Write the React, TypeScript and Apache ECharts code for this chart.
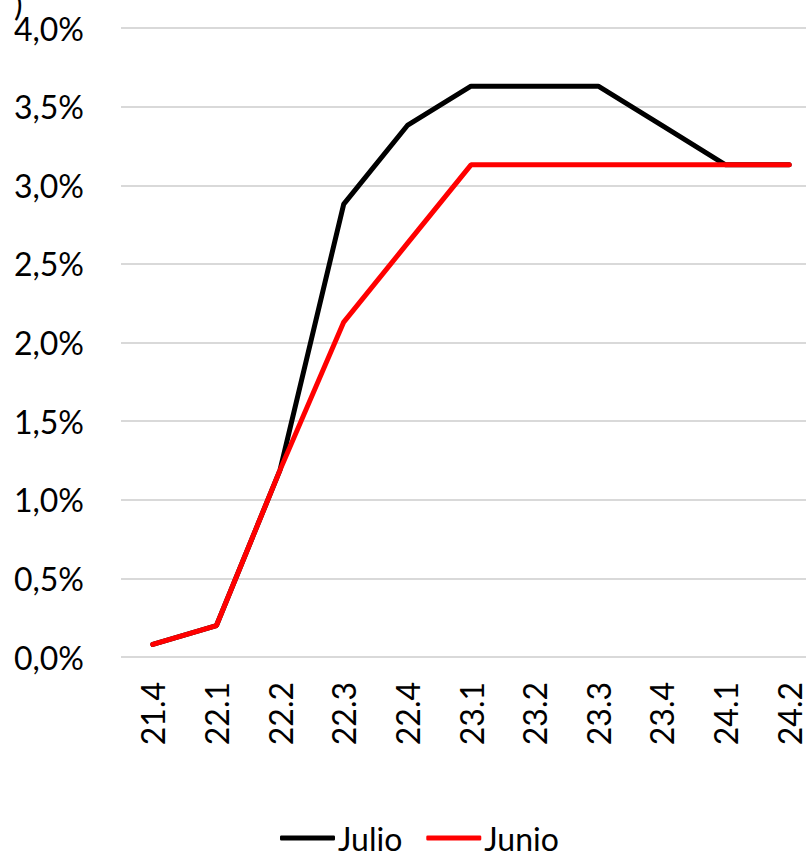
import React, { useEffect, useRef } from "react";
import * as echarts from "echarts";

const categories = ["21.4", "22.1", "22.2", "22.3", "22.4", "23.1", "23.2", "23.3", "23.4", "24.1", "24.2"];
const julio = [0.08, 0.2, 1.19, 2.88, 3.38, 3.63, 3.63, 3.63, 3.38, 3.13, 3.13];
const junio = [0.08, 0.2, 1.19, 2.13, 2.63, 3.13, 3.13, 3.13, 3.13, 3.13, 3.13];
const yTicks = [0, 0.5, 1, 1.5, 2, 2.5, 3, 3.5, 4];

const FONT = "Lato, 'Open Sans', sans-serif";

export default function App() {
  const ref = useRef<HTMLDivElement>(null);
  useEffect(() => {
    document.body.style.margin = "0";
    const chart = echarts.init(ref.current!, null, { renderer: "svg" });
    chart.setOption({
      animation: false,
      textStyle: { fontFamily: FONT },
      grid: { left: 121, right: 9, top: 28, bottom: 200, containLabel: false, outerBoundsMode: "none" },
      graphic: [
        {
          type: "text",
          left: 14,
          top: -13,
          style: { text: ")", fontSize: 32, fill: "#000", fontFamily: FONT },
        },
      ],
      legend: {
        top: 817,
        left: 275,
        itemWidth: 55,
        itemHeight: 5,
        itemGap: 24,
        icon: "roundRect",
        textStyle: { fontSize: 32, color: "#000", fontFamily: FONT, padding: [0, 0, 0, -2] },
        data: ["Julio", "Junio"],
      },
      xAxis: {
        type: "category",
        data: categories,
        boundaryGap: true,
        axisLine: { show: false },
        axisTick: { show: false },
        axisLabel: { rotate: 90, fontSize: 32, color: "#000", margin: 25, interval: 0, fontFamily: FONT },
      },
      yAxis: {
        type: "value",
        min: 0,
        max: 4,
        interval: 0.5,
        axisLine: { show: false },
        axisTick: { show: false },
        splitLine: { lineStyle: { color: "#d9d9d9", width: 2 } },
        axisLabel: {
          fontSize: 32,
          color: "#000",
          margin: 37,
          fontFamily: FONT,
          formatter: (v: number) => (yTicks.includes(v) ? v.toFixed(1).replace(".", ",") + "%" : ""),
        },
      },
      series: [
        {
          name: "Julio",
          type: "line",
          data: julio,
          symbol: "none",
          lineStyle: { color: "#000", width: 5, cap: "round" },
          itemStyle: { color: "#000" },
        },
        {
          name: "Junio",
          type: "line",
          data: junio,
          symbol: "none",
          lineStyle: { color: "#ff0000", width: 5, cap: "round" },
          itemStyle: { color: "#ff0000" },
        },
      ],
    });
    return () => chart.dispose();
  }, []);
  return (
    <div style={{ position: "absolute", left: 0, top: 0, width: 806, height: 857, overflow: "hidden" }}>
      <div ref={ref} style={{ width: 830, height: 857 }} />
    </div>
  );
}
